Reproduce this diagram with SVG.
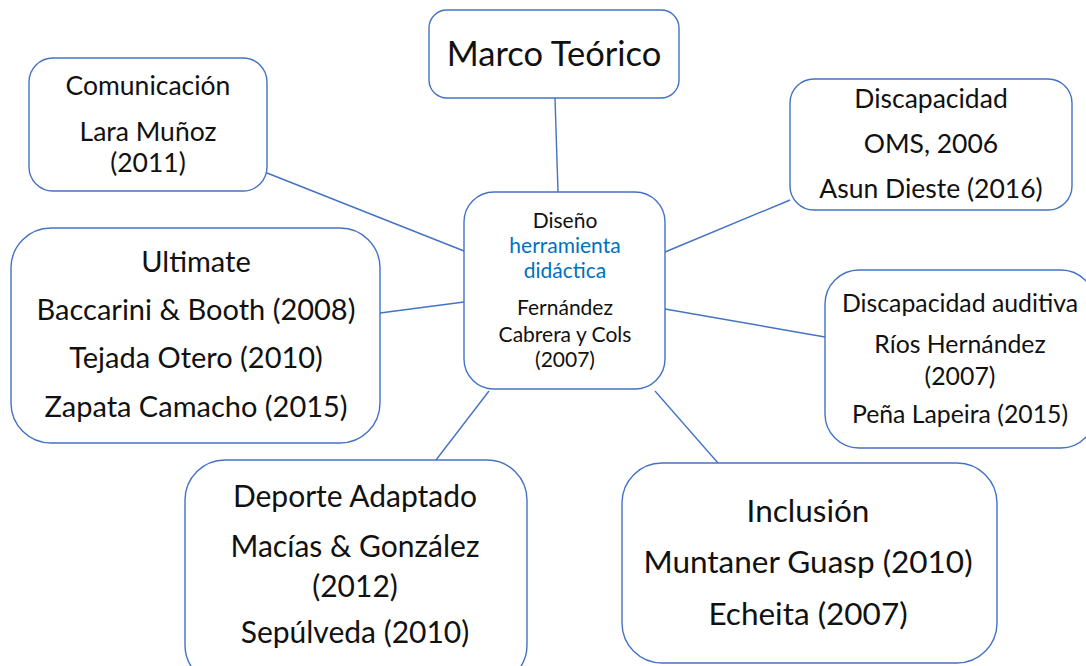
<svg xmlns="http://www.w3.org/2000/svg" width="1086" height="666" viewBox="0 0 1086 666">
<style>
.box{fill:#fff;stroke:#4472C4;stroke-width:1.4}
.c{stroke:#4472C4;stroke-width:1.4;fill:none}
text{font-family:Lato,"Open Sans","Liberation Sans",sans-serif;fill:#111;text-anchor:middle}
.b{fill:#0070C0}
</style>
<rect width="1086" height="666" fill="#fff"/>
<g id="connectors">
<line class="c" x1="555" y1="98" x2="558" y2="192"/>
<line class="c" x1="267" y1="173" x2="464" y2="251"/>
<line class="c" x1="790" y1="200" x2="665" y2="252"/>
<line class="c" x1="380" y1="313" x2="464" y2="302"/>
<line class="c" x1="825" y1="337" x2="665" y2="309"/>
<line class="c" x1="436" y1="460" x2="489" y2="391"/>
<line class="c" x1="718" y1="463" x2="655" y2="391"/>
</g>
<g id="marco">
<rect class="box" x="429" y="10" width="250" height="88" rx="18"/>
<text x="554" y="66" font-size="34.5">Marco Teórico</text>
</g>
<g id="comunicacion">
<rect class="box" x="29" y="58" width="238" height="133" rx="24"/>
<text x="148" y="95" font-size="26.5">Comunicación</text>
<text x="148" y="141" font-size="26.5">Lara Muñoz</text>
<text x="148" y="172" font-size="26.5">(2011)</text>
</g>
<g id="discapacidad">
<rect class="box" x="790" y="79" width="282" height="131" rx="24"/>
<text x="931" y="108" font-size="26.5">Discapacidad</text>
<text x="931" y="153" font-size="26.5">OMS, 2006</text>
<text x="931" y="198" font-size="26.5">Asun Dieste (2016)</text>
</g>
<g id="centro">
<rect class="box" x="464" y="192" width="201" height="197" rx="30"/>
<text x="565" y="228" font-size="21">Diseño</text>
<text x="565" y="253" font-size="21" class="b">herramienta</text>
<text x="565" y="278" font-size="21" class="b">didáctica</text>
<text x="565" y="315" font-size="21">Fernández</text>
<text x="565" y="342" font-size="21">Cabrera y Cols</text>
<text x="565" y="367" font-size="21">(2007)</text>
</g>
<g id="ultimate">
<rect class="box" x="11" y="228" width="369" height="215" rx="40"/>
<text x="196" y="272" font-size="29">Ultimate</text>
<text x="196" y="320" font-size="29">Baccarini &amp; Booth (2008)</text>
<text x="196" y="368" font-size="29">Tejada Otero (2010)</text>
<text x="196" y="417" font-size="29">Zapata Camacho (2015)</text>
</g>
<g id="auditiva">
<rect class="box" x="825" y="270" width="270" height="178" rx="34"/>
<text x="960" y="312" font-size="24.8">Discapacidad auditiva</text>
<text x="960" y="353" font-size="24.8">Ríos Hernández</text>
<text x="960" y="385" font-size="24.8">(2007)</text>
<text x="960" y="423" font-size="24.8">Peña Lapeira (2015)</text>
</g>
<g id="deporte">
<rect class="box" x="185" y="460" width="342" height="225" rx="40"/>
<text x="355" y="507" font-size="30">Deporte Adaptado</text>
<text x="355" y="557" font-size="30">Macías &amp; González</text>
<text x="355" y="597" font-size="30">(2012)</text>
<text x="355" y="643" font-size="30">Sepúlveda (2010)</text>
</g>
<g id="inclusion">
<rect class="box" x="622" y="463" width="375" height="200" rx="40"/>
<text x="808" y="522" font-size="31.5">Inclusión</text>
<text x="808" y="573" font-size="31.5">Muntaner Guasp (2010)</text>
<text x="808" y="625" font-size="31.5">Echeita (2007)</text>
</g>
</svg>
